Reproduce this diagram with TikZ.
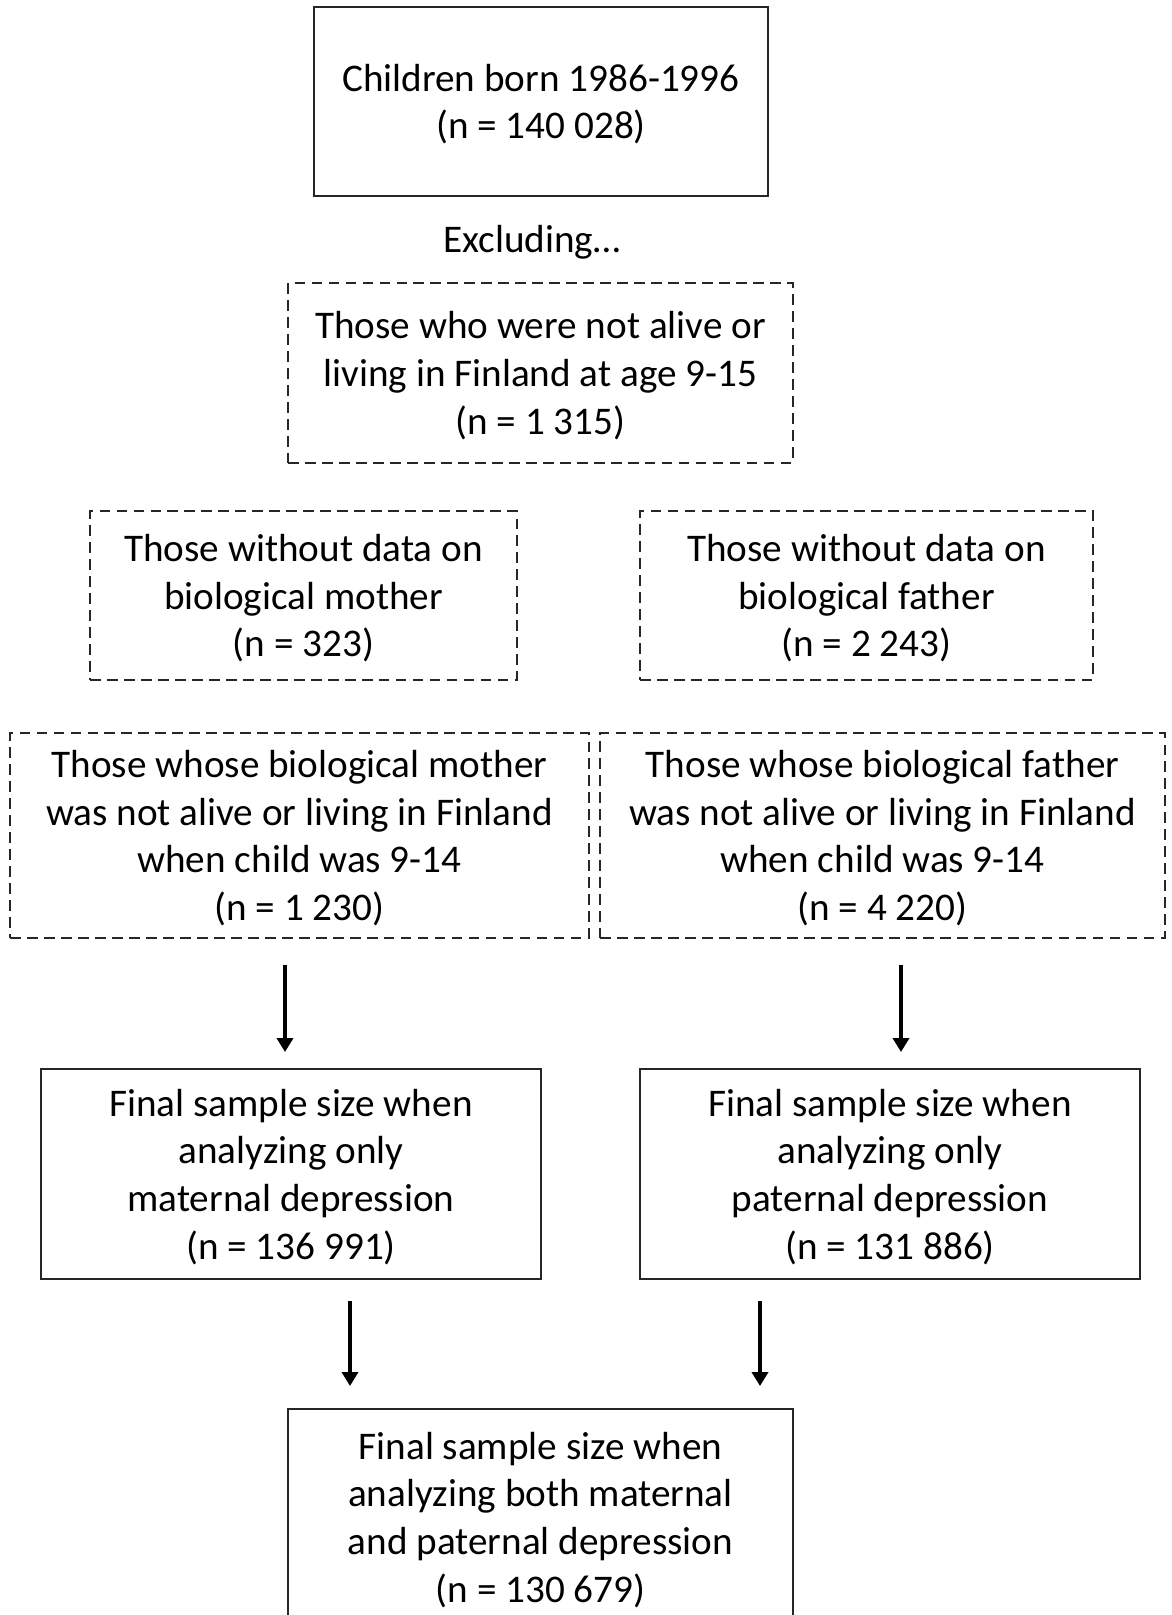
\documentclass[tikz,border=0pt]{standalone}
\usepackage{fontspec}
\setmainfont{Carlito}
\usepackage{tikz}
\usetikzlibrary{arrows.meta,calc}

\begin{document}
\begin{tikzpicture}[x=0.02cm, y=-0.02cm, >={Triangle[length=0.28cm,width=0.32cm]}]
        \tikzset{txt/.style={align=center, inner sep=0pt, text depth=0pt, font=\fontsize{22.3}{27.1}\selectfont}, sizebox/.style={txt, rectangle, draw=black!85, line width=0.04cm, minimum height=4.2cm}, exclbox/.style={sizebox, line width=0.03cm, dash pattern=on 0.21cm off 0.13cm, minimum height=3.38cm}, arr/.style={->, line width=0.09cm}}
        \useasboundingbox (0,0) rectangle (1171,1615);
        \node[sizebox, minimum width=9.08cm, minimum height=3.78cm] (born) at (541,101.5) {Children born 1986-1996\\(n = 140 028)};
        \node[txt] (excl) at (532,239) {Excluding\dots};
        \node[exclbox, minimum width=10.1cm, minimum height=3.6cm] (notalive) at (540.5,373) {Those who were not alive or\\living in Finland at age 9-15\\(n = 1 315)};
        \node[exclbox, minimum width=8.54cm] (nomother) at (303.5,595.5) {Those without data on\\biological mother\\(n = 323)};
        \node[exclbox, minimum width=9.06cm] (nofather) at (866.5,595.5) {Those without data on\\biological father\\(n = 2 243)};
        \node[exclbox, minimum width=11.58cm, minimum height=4.1cm] (mothergone) at (299.5,835.5) {Those whose biological mother\\was not alive or living in Finland\\when child was 9-14\\(n = 1 230)};
        \node[exclbox, minimum width=11.3cm, minimum height=4.1cm] (fathergone) at (882.5,835.5) {Those whose biological father\\was not alive or living in Finland\\when child was 9-14\\(n = 4 220)};
        \node[sizebox, minimum width=10cm] (finalmat) at (291,1174) {Final sample size when\\analyzing only\\maternal depression\\(n = 136 991)};
        \node[sizebox, minimum width=10cm] (finalpat) at (890,1174) {Final sample size when\\analyzing only\\paternal depression\\(n = 131 886)};
        \node[sizebox, minimum width=10.1cm, minimum height=4.32cm] (finalboth) at (540.5,1517) {Final sample size when\\analyzing both maternal\\and paternal depression\\(n = 130 679)};
        \coordinate (ml) at ($(mothergone.south)+(-14.5,0)$);
        \coordinate (fl) at ($(fathergone.south)+(18.5,0)$);
        \coordinate (mb) at ($(finalmat.south)+(59,0)$);
        \coordinate (fb) at ($(finalpat.south)+(-130,0)$);
        \draw[arr, shorten <=0.52cm, shorten >=0.32cm] (ml) -- (ml |- finalmat.north);
        \draw[arr, shorten <=0.52cm, shorten >=0.32cm] (fl) -- (fl |- finalpat.north);
        \draw[arr, shorten <=0.42cm, shorten >=0.44cm] (mb) -- (mb |- finalboth.north);
        \draw[arr, shorten <=0.42cm, shorten >=0.44cm] (fb) -- (fb |- finalboth.north);
    \end{tikzpicture}
\end{document}
